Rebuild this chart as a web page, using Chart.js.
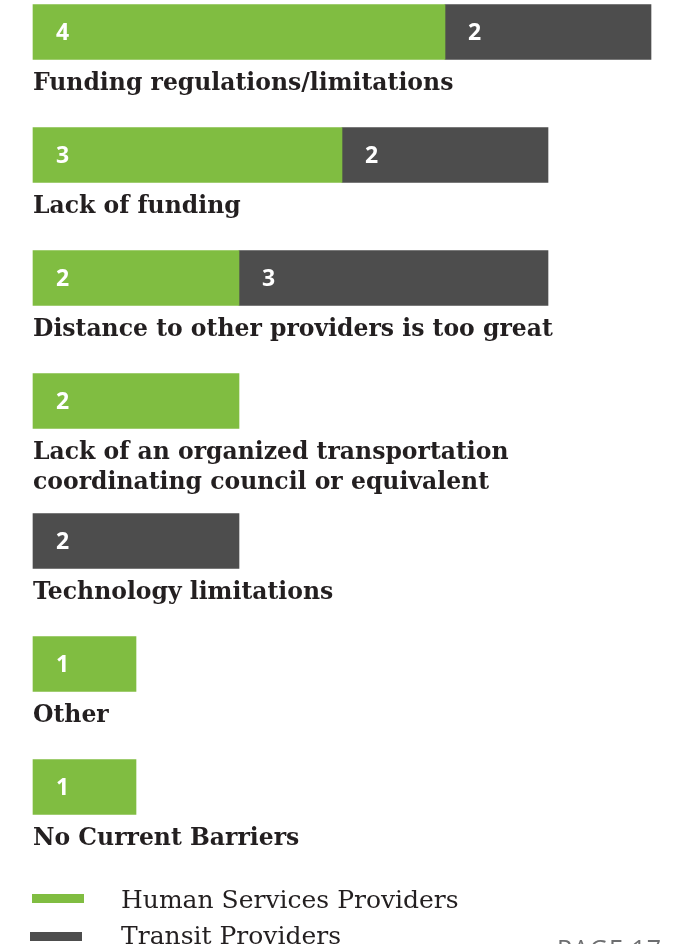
<!DOCTYPE html>
<html>
<head>
<meta charset="utf-8">
<script src="https://cdn.jsdelivr.net/npm/chart.js@4/dist/chart.umd.min.js"></script>
<style>
  html, body { margin: 0; padding: 0; background: #fff; overflow: hidden; }
  #wrap { position: relative; width: 696px; height: 944px; overflow: hidden; }
  #chart { position: absolute; left: 0; top: 0; }
  .leg { position: absolute; left: 0; top: 0; font-family: "DejaVu Serif", serif; font-size: 25px; line-height: 1; color: #231f20; white-space: nowrap; }
  .leg span.sw { position: absolute; height: 9px; width: 52px; }
  .leg span.tx { position: absolute; left: 121px; }
  #page { position: absolute; left: 557px; top: 931px; font-family: "Open Sans", sans-serif; font-size: 25px; color: #6d6e70; letter-spacing: 1px; }
</style>
</head>
<body>
<div id="wrap">
  <canvas id="chart" width="696" height="944"></canvas>
  <div id="legend"></div>
  <div id="page">PAGE 17</div>
</div>
<script>
// barriers to coordination
const categories = [
  "Funding regulations/limitations",
  "Lack of funding",
  "Distance to other providers is too great",
  ["Lack of an organized transportation", "coordinating council or equivalent"],
  "Technology limitations",
  "Other",
  "No Current Barriers"
];
const humanServices = [4, 3, 2, 2, null, 1, 1];
const transitProviders = [2, 2, 3, null, 2, null, null];
const seriesNames = ["Human Services Providers", "Transit Providers"];
const seriesColors = ["#80bd41", "#4d4d4d"];

const labelFont = "bold 23.5px 'DejaVu Serif', serif";
const valueFont = "bold 23px 'Open Sans', 'DejaVu Sans', sans-serif";

// each row takes room for its bar plus its label lines
const nLines = categories.map(c => Array.isArray(c) ? c.length : 1);
const rowPos = [];
let acc = 0;
nLines.forEach((n, i) => {
  rowPos.push(acc);
  acc += 106 + 17 * n;
});
const lastRow = rowPos[rowPos.length - 1];

// category text under every bar + numbers inside the segments
const barText = {
  id: "barText",
  afterDatasetsDraw(chart) {
    const ctx = chart.ctx;
    const yScale = chart.scales.y;
    ctx.save();

    ctx.fillStyle = "#fff";
    ctx.font = valueFont;
    ctx.textAlign = "left";
    ctx.textBaseline = "middle";
    chart.data.datasets.forEach((ds, d) => {
      chart.getDatasetMeta(d).data.forEach((bar, i) => {
        if (ds.data[i].x == null) return;
        const p = bar.getProps(["x", "y", "base"], true);
        ctx.fillText(String(ds.data[i].x), Math.min(p.base, p.x) + 23, p.y + 1);
      });
    });

    ctx.fillStyle = "#231f20";
    ctx.font = labelFont;
    ctx.textBaseline = "alphabetic";
    categories.forEach((lab, i) => {
      const y = yScale.getPixelForValue(rowPos[i]);
      const lines = Array.isArray(lab) ? lab : [lab];
      lines.forEach((ln, k) => {
        ctx.fillText(ln, 33, y + 27.5 + 30 + k * 30);
      });
    });
    ctx.restore();
  }
};

new Chart(document.getElementById("chart"), {
  type: "bar",
  data: {
    datasets: [
      { label: seriesNames[0], data: humanServices.map((v, i) => ({ x: v, y: rowPos[i] })), backgroundColor: seriesColors[0], barThickness: 55, clip: false },
      { label: seriesNames[1], data: transitProviders.map((v, i) => ({ x: v, y: rowPos[i] })), backgroundColor: seriesColors[1], barThickness: 55, clip: false }
    ]
  },
  options: {
    indexAxis: "y",
    responsive: false,
    animation: false,
    layout: { padding: { left: 33, right: 45, top: 32, bottom: 944 - 32 - lastRow } },
    scales: {
      x: { type: "linear", min: 0, max: 6, stacked: true, display: false },
      y: { type: "linear", reverse: true, min: 0, max: lastRow, offset: false, stacked: true, display: false }
    },
    plugins: {
      legend: { display: false },
      tooltip: { enabled: false }
    }
  },
  plugins: [barText]
});

// legend below the chart
const legendTops = [894, 932];
const legendLeft = [32, 30];
const legendText = [887, 923];
const legendBox = document.getElementById("legend");
seriesNames.forEach((name, i) => {
  const row = document.createElement("div");
  row.className = "leg";
  row.innerHTML = `<span class="sw" style="left:${legendLeft[i]}px;top:${legendTops[i]}px;background:${seriesColors[i]}"></span>` +
    `<span class="tx" style="top:${legendText[i]}px">${name}</span>`;
  legendBox.appendChild(row);
});
</script>
</body>
</html>
